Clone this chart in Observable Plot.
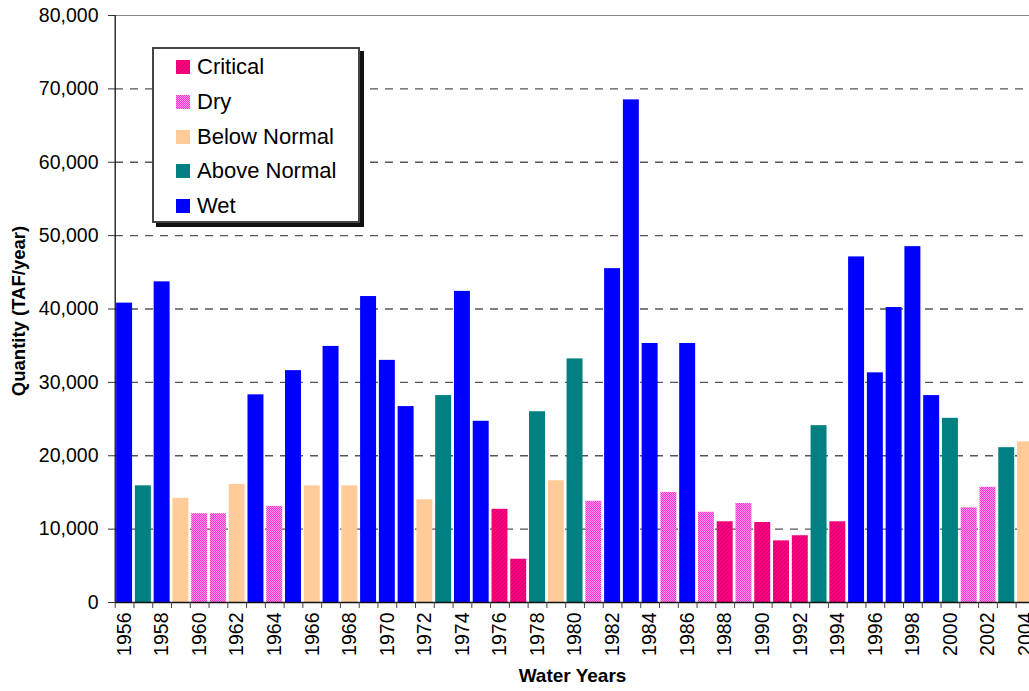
<!DOCTYPE html>
<html>
<head>
<meta charset="utf-8">
<script src="https://cdn.jsdelivr.net/npm/d3@7"></script>
<script src="https://cdn.jsdelivr.net/npm/@observablehq/plot@0.6"></script>
<style>
  html, body { margin: 0; padding: 0; background: white; overflow: hidden; }
  #wrap { position: relative; width: 1029px; height: 691px; font-family: "Liberation Sans", Arial, sans-serif; }
  #legend { position: absolute; left: 152px; top: 47px; width: 208px; height: 176px; box-sizing: border-box;
            border: 2px solid #444; background: white; box-shadow: 4px 4px 0 #111; }
  .row { position: absolute; left: 0; height: 30px; display: flex; align-items: center; }
  .row svg { margin-left: 22px; }
  .row span { margin-left: 7px; font-size: 22px; color: #000; }
</style>
</head>
<body>
<div id="wrap"></div>
<script>
const years = [1956,1957,1958,1959,1960,1961,1962,1963,1964,1965,1966,1967,1968,1969,1970,1971,1972,1973,1974,1975,
  1976,1977,1978,1979,1980,1981,1982,1983,1984,1985,1986,1987,1988,1989,1990,1991,1992,1993,1994,1995,
  1996,1997,1998,1999,2000,2001,2002,2003,2004];
const quantities = [40800,15900,43700,14200,12100,12100,16100,28300,13100,31600,
  15900,34900,15900,41700,33000,26700,14000,28200,42400,24700,
  12700,5900,26000,16600,33200,13800,45500,68500,35300,15000,
  35300,12300,11000,13500,10900,8400,9100,24100,11000,47100,
  31300,40200,48500,28200,25100,12900,15700,21100,21900];
const yearTypes = ["W","AN","W","BN","D","D","BN","W","D","W",
  "BN","W","BN","W","W","W","BN","AN","W","W",
  "C","C","AN","BN","AN","D","W","W","W","D",
  "W","D","C","D","C","C","C","AN","C","W",
  "W","W","W","W","AN","D","D","AN","BN"];
const typeCodes = ["C","D","BN","AN","W"];
const typeNames = ["Critical","Dry","Below Normal","Above Normal","Wet"];
const typeFills = ["url(#patCrit)","url(#patDry)","#FFCC99","#008080","#0000FF"];
const yTicks = [0,10000,20000,30000,40000,50000,60000,70000,80000];
const gridValues = [10000,20000,30000,40000,50000,60000,70000];
const labelYears = years.filter((y, i) => i % 2 === 0);
const bandEdges = years.map(y => y - 0.5).concat([years[years.length - 1] + 0.5]);

const data = years.map((y, i) => ({year: y, value: quantities[i], type: yearTypes[i]}));

const chart = Plot.plot({
  width: 1029,
  height: 691,
  marginLeft: 115,
  marginRight: 0,
  marginTop: 15,
  marginBottom: 89,
  style: {fontFamily: "'Liberation Sans', Arial, sans-serif", fontSize: "19px", background: "white", color: "black"},
  x: {type: "linear", domain: [1955.5, 2004.5], range: [114.7, 1034.4], axis: null},
  y: {domain: [0, 80000], axis: null},
  color: {type: "ordinal", domain: typeCodes, range: typeFills},
  marks: [
    Plot.ruleY([80000], {stroke: "#888", strokeWidth: 1.2}),
    Plot.ruleY(gridValues, {stroke: "#555", strokeWidth: 1.3, strokeDasharray: "8,7"}),
    Plot.rectY(data, {x1: d => d.year - 0.5, x2: d => d.year + 0.5, y: "value", fill: "type", insetLeft: 1.4, insetRight: 1.4}),
    Plot.ruleX([1955.5], {y1: 0, y2: 80000, stroke: "#111", strokeWidth: 1.3}),
    Plot.ruleY([0], {stroke: "#111", strokeWidth: 1.6}),
    Plot.axisY({ticks: yTicks, tickSize: 7, tickPadding: 10, tickFormat: d3.format(","), label: null, stroke: "#333", fontSize: 19.5}),
    Plot.axisX({ticks: bandEdges, tickSize: 6, tickFormat: () => "", label: null, stroke: "#444"}),
    Plot.axisX({ticks: labelYears, tickSize: 0, tickPadding: 10, tickRotate: -90, tickFormat: d => String(d), label: null, fontSize: 19.5}),
    Plot.text(["Water Years"], {frameAnchor: "bottom", dy: 79, fontWeight: "bold", fontSize: 19}),
    Plot.text(["Quantity (TAF/year)"], {frameAnchor: "left", textAnchor: "middle", dx: -96, dy: 2, rotate: -90, fontWeight: "bold", fontSize: 18.5})
  ]
});

// patterns for hatched categories
const defs = d3.select(chart).insert("defs", ":first-child");
const pc = defs.append("pattern").attr("id", "patCrit").attr("patternUnits", "userSpaceOnUse").attr("width", 4).attr("height", 4);
pc.append("rect").attr("width", 4).attr("height", 4).attr("fill", "#FF0080");
pc.append("path").attr("d", "M0,4L4,0M-1,1L1,-1M3,5L5,3").attr("stroke", "#C8006A").attr("stroke-width", 0.9);
const pd = defs.append("pattern").attr("id", "patDry").attr("patternUnits", "userSpaceOnUse").attr("width", 2).attr("height", 2);
pd.append("rect").attr("width", 2).attr("height", 2).attr("fill", "#FF99EE");
pd.append("rect").attr("width", 1).attr("height", 1).attr("fill", "#FF33CC");
pd.append("rect").attr("x", 1).attr("y", 1).attr("width", 1).attr("height", 1).attr("fill", "#FF33CC");

const wrap = document.getElementById("wrap");
wrap.appendChild(chart);

// legend
const legend = document.createElement("div");
legend.id = "legend";
typeCodes.forEach((code, i) => {
  const row = document.createElement("div");
  row.className = "row";
  row.style.top = (3 + i * 34.75) + "px";
  row.innerHTML = `<svg width="14" height="14"><rect width="14" height="14" fill="${typeFills[i]}"></rect></svg><span>${typeNames[i]}</span>`;
  legend.appendChild(row);
});
wrap.appendChild(legend);
</script>
</body>
</html>
